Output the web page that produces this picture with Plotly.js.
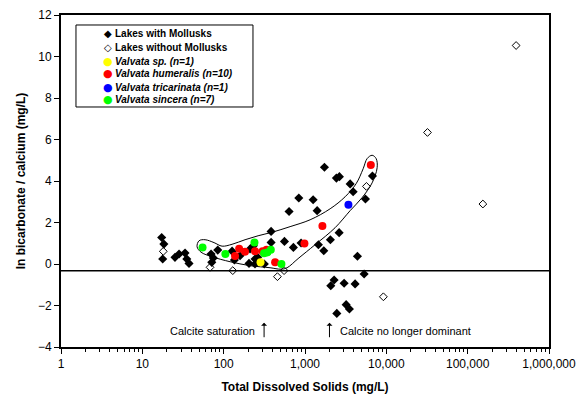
<!DOCTYPE html>
<html>
<head>
<meta charset="utf-8">
<script src="https://cdn.plot.ly/plotly-3.0.1.min.js"></script>
<style>html,body{margin:0;padding:0;background:#fff;}#chart{width:581px;height:398px;}</style>
</head>
<body>
<div id="chart"></div>
<script>
// Lakes with mollusks (filled black diamonds)
const tdsWith = [17.3, 18.4, 17.8, 25.2, 28.3, 33.5, 35.2, 37.5, 70, 74.7, 71.4, 84.6, 127, 135.5, 159, 211, 232, 205, 243, 243, 262, 316, 383, 383, 559, 720, 895, 637, 839, 1259, 1410, 1734, 1462, 1702, 2052, 2628, 2432, 2649, 3590, 3908, 5537, 6750, 4413, 5333, 2280, 2075, 3027, 4130, 3206, 3517, 2461];
const lnWith  = [1.28, 0.96, 0.24, 0.32, 0.48, 0.53, 0.24, 0.03, 0.48, 0.29, 0.08, 0.67, 0.62, 0.19, 0.40, 0.72, 0.88, 0.03, 0.0, 0.24, 0.32, 0.0, 1.57, 1.04, 1.09, 0.80, 1.01, 2.53, 3.18, 3.10, 2.57, 4.66, 0.93, 0.64, 1.17, 1.51, 4.14, 4.21, 3.86, 3.48, 3.13, 4.24, 0.37, -0.48, -0.77, -1.05, -0.93, -0.96, -1.96, -2.17, -2.38];
// Lakes without mollusks (open diamonds)
const tdsWithout = [18.1, 68, 129.4, 458, 553, 5690, 9200, 32060, 153800, 394000];
const lnWithout  = [0.61, -0.16, -0.32, -0.61, -0.32, 3.74, -1.58, 6.34, 2.89, 10.53];
// Valvata species
const tdsSp = [284];
const lnSp  = [0.08];
const tdsHum = [138, 155, 183, 243, 301, 337, 429, 984, 1637, 6446];
const lnHum  = [0.38, 0.74, 0.59, 0.62, 0.62, 0.69, 0.08, 0.99, 1.83, 4.77];
const tdsTri = [3420];
const lnTri  = [2.86];
const tdsSin = [55, 105, 239, 314, 345, 380, 513];
const lnSin  = [0.80, 0.48, 1.04, 0.52, 0.56, 0.69, 0.0];
// Hand-drawn envelope around the Valvata lakes
const envTds = [211, 120, 72, 52.7, 47.1, 49.8, 59.1, 76.2, 95.6, 126.8, 183.2, 264.9, 393.9, 655.6, 1155, 2036, 3114, 4252, 5188, 5808, 6688, 7492, 7709, 6688, 5039, 3589, 2346, 1331, 822, 602, 508, 372, 211];
const envLn  = [-0.08, 0.11, 0.35, 0.57, 0.83, 1.12, 1.17, 1.03, 0.86, 0.95, 1.17, 1.36, 1.53, 1.80, 2.13, 2.66, 3.24, 3.87, 4.59, 5.08, 5.24, 5.08, 4.64, 3.91, 3.20, 2.57, 1.75, 0.93, 0.26, -0.18, -0.25, -0.18, -0.08];
// Reference line and markers
const calciteLineY = -0.33;
const calciteSatTds = 314;
const calciteNoDomTds = 2000;
const arrowHeadY = -2.83;
const labelY = -3.22;
// Axis ticks
const xTickVals = [1, 10, 100, 1000, 10000, 100000, 1000000];
const xTickText = ['1', '10', '100', '1,000', '10,000', '100,000', '1,000,000'];
const yTickVals = [-4, -2, 0, 2, 4, 6, 8, 10, 12];
const minorDigits = [2, 3, 4, 5, 6, 7, 8, 9];
// Legend
const legendNames = ['Lakes with Mollusks', 'Lakes without Mollusks', 'Valvata sp. (n=1)', 'Valvata humeralis (n=10)', 'Valvata tricarinata (n=1)', 'Valvata sincera (n=7)'];
const legendGlyphs = ['\u25C6', '\u25C7', '\u25CF', '\u25CF', '\u25CF', '\u25CF'];
const legendColors = ['#000000', '#000000', '#ffff00', '#ff0000', '#0000ff', '#00ff00'];
const legendItalic = [false, false, true, true, true, true];

const FONT = 'Arial, "Liberation Sans", sans-serif';

const minorTickVals = [];
xTickVals.slice(0, -1).forEach(d => minorDigits.forEach(k => minorTickVals.push(d * k)));

const traces = [
  {x: envTds, y: envLn, mode: 'lines', line: {color: '#000', width: 1, shape: 'spline', smoothing: 1}, hoverinfo: 'skip', showlegend: false},
  {x: tdsWith, y: lnWith, mode: 'markers', name: legendNames[0], marker: {symbol: 'diamond', size: 7, color: '#000'}},
  {x: tdsWithout, y: lnWithout, mode: 'markers', name: legendNames[1], marker: {symbol: 'diamond-open', size: 6, color: '#000', line: {width: 1}}},
  {x: tdsSp, y: lnSp, mode: 'markers', name: legendNames[2], marker: {symbol: 'circle', size: 8, color: '#ffff00'}},
  {x: tdsHum, y: lnHum, mode: 'markers', name: legendNames[3], marker: {symbol: 'circle', size: 8, color: '#ff0000'}},
  {x: tdsTri, y: lnTri, mode: 'markers', name: legendNames[4], marker: {symbol: 'circle', size: 8, color: '#0000ff'}},
  {x: tdsSin, y: lnSin, mode: 'markers', name: legendNames[5], marker: {symbol: 'circle', size: 8, color: '#00ff00'}}
];

// Legend rows (paper coords)
const rowY = [0.9428, 0.9021, 0.8614, 0.8223, 0.7831, 0.7440];
const annotations = [];
legendNames.forEach((n, i) => {
  annotations.push({xref: 'paper', yref: 'paper', x: 0.0963, y: rowY[i], xanchor: 'center', yanchor: 'middle', showarrow: false,
    text: legendGlyphs[i], font: {family: '"DejaVu Sans", sans-serif', size: i < 2 ? 10 : 11, color: legendColors[i]}});
  annotations.push({xref: 'paper', yref: 'paper', x: 0.1066, y: rowY[i], xanchor: 'left', yanchor: 'middle', showarrow: false,
    text: legendItalic[i] ? '<b><i>' + n + '</i></b>' : '<b>' + n + '</b>', font: {family: FONT, size: 10, color: '#000'}});
});
// Arrows and labels
annotations.push({x: Math.log10(calciteSatTds), y: arrowHeadY, xref: 'x', yref: 'y', showarrow: true, ax: 0, ay: 16, arrowhead: 1, arrowsize: 1, arrowwidth: 1, arrowcolor: '#000', text: ''});
annotations.push({x: Math.log10(calciteNoDomTds), y: arrowHeadY, xref: 'x', yref: 'y', showarrow: true, ax: 0, ay: 16, arrowhead: 1, arrowsize: 1, arrowwidth: 1, arrowcolor: '#000', text: ''});
annotations.push({x: Math.log10(calciteSatTds), y: labelY, xref: 'x', yref: 'y', xanchor: 'right', xshift: -7, showarrow: false, text: 'Calcite saturation', font: {family: FONT, size: 11, color: '#000'}});
annotations.push({x: Math.log10(calciteNoDomTds), y: labelY, xref: 'x', yref: 'y', xanchor: 'left', xshift: 9, showarrow: false, text: 'Calcite no longer dominant', font: {family: FONT, size: 11, color: '#000'}});

const layout = {
  width: 581, height: 398,
  margin: {l: 61, r: 32, t: 15, b: 51},
  paper_bgcolor: '#fff', plot_bgcolor: '#fff',
  font: {family: FONT, size: 12, color: '#000'},
  showlegend: false,
  xaxis: {
    type: 'log', range: [0, 6], tickmode: 'array', tickvals: xTickVals, ticktext: xTickText,
    ticks: 'outside', ticklen: 5, tickwidth: 1, tickcolor: '#000',
    minor: {tickmode: 'array', tickvals: minorTickVals, ticks: 'outside', ticklen: 3, tickwidth: 1, tickcolor: '#000', showgrid: false},
    showgrid: false, zeroline: false, showline: true, linewidth: 2, linecolor: '#000', mirror: true,
    tickfont: {family: FONT, size: 12, color: '#000'},
    title: {text: '<b>Total Dissolved Solids (mg/L)</b>', font: {family: FONT, size: 12, color: '#000'}, standoff: 12}
  },
  yaxis: {
    range: [-4, 12], tickvals: yTickVals,
    ticks: 'outside', ticklen: 5, tickwidth: 1, tickcolor: '#000',
    showgrid: false, zeroline: false, showline: true, linewidth: 2, linecolor: '#000', mirror: true,
    tickfont: {family: FONT, size: 12, color: '#000'},
    title: {text: '<b>ln bicarbonate / calcium (mg/L)</b>', font: {family: FONT, size: 12, color: '#000'}, standoff: 10}
  },
  shapes: [
    {type: 'line', xref: 'paper', yref: 'y', x0: 0, x1: 1, y0: calciteLineY, y1: calciteLineY, line: {color: '#000', width: 1.5}},
    {type: 'rect', xref: 'paper', yref: 'paper', x0: 0.0307, x1: 0.3934, y0: 0.7229, y1: 0.9699, line: {color: '#000', width: 1}, fillcolor: '#fff', layer: 'below'}
  ],
  annotations: annotations
};

Plotly.newPlot('chart', traces, layout, {displayModeBar: false, staticPlot: true});
</script>
</body>
</html>
